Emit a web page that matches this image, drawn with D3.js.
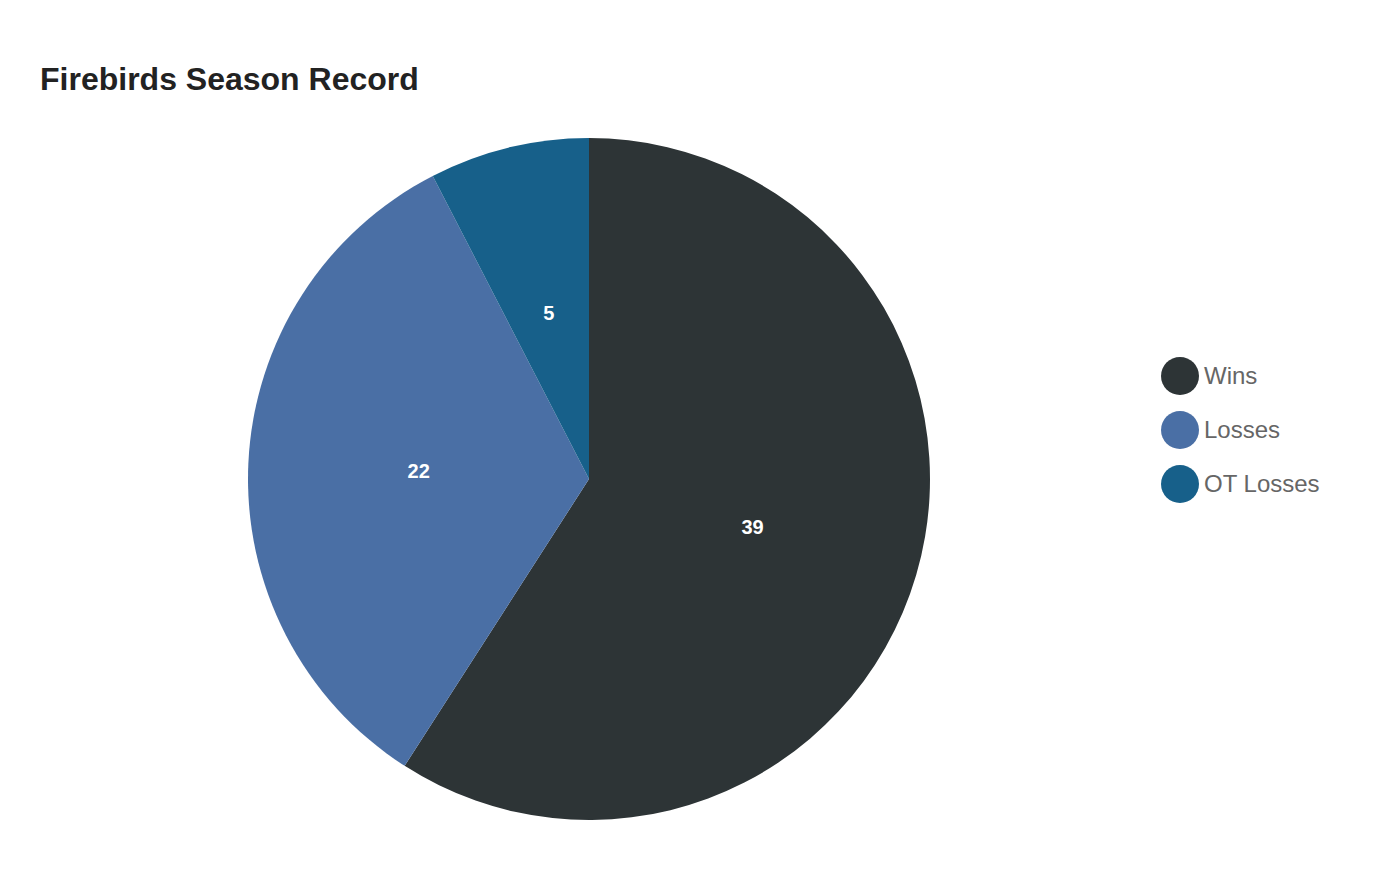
<!DOCTYPE html>
<html>
<head>
    <title>Firebirds Season Record</title>
    <script src="https://cdn.jsdelivr.net/npm/d3@7"></script>
    <style>
        body { margin: 0; background: #fff; }
        text { font-family: "Liberation Sans", Arial, sans-serif; }
    </style>
</head>
<body>
<script>
    var categories = ['Wins', 'Losses', 'OT Losses'],
        values = [39, 22, 5],
        colors = ['#2d3436', '#4a6fa5', '#17608a'];

    var width = 1400,
        height = 880,
        cx = 589,
        cy = 479,
        radius = 341;

    var data = categories.map(function (c, i) {
        return { name: c, value: values[i] };
    });

    var svg = d3.select('body')
        .append('svg')
        .attr('width', width)
        .attr('height', height);

    svg.append('text')
        .attr('x', 40)
        .attr('y', 90)
        .style('font-size', '32px')
        .style('font-weight', 'bold')
        .style('fill', '#222')
        .text('Firebirds Season Record');

    var color = d3.scaleOrdinal().domain(categories).range(colors);

    var pie = d3.pie()
        .sort(null)
        .value(function (d) { return d.value; });

    var arc = d3.arc().innerRadius(0).outerRadius(radius);
    var labelArc = d3.arc().innerRadius(radius * 0.5).outerRadius(radius * 0.5);

    var g = svg.append('g')
        .attr('transform', 'translate(' + cx + ',' + cy + ')');

    var slices = g.selectAll('g.slice')
        .data(pie(data))
        .enter()
        .append('g')
        .attr('class', 'slice');

    slices.append('path')
        .attr('d', arc)
        .attr('fill', function (d) { return color(d.data.name); });

    slices.append('text')
        .attr('transform', function (d) { return 'translate(' + labelArc.centroid(d) + ')'; })
        .attr('text-anchor', 'middle')
        .attr('dy', '0.35em')
        .style('font-size', '20px')
        .style('font-weight', 'bold')
        .style('fill', '#fff')
        .text(function (d) { return d.data.value; });

    // legend
    var legend = svg.append('g')
        .attr('transform', 'translate(1180, 376)');

    var items = legend.selectAll('g.item')
        .data(categories)
        .enter()
        .append('g')
        .attr('class', 'item')
        .attr('transform', function (d, i) { return 'translate(0,' + i * 54 + ')'; });

    items.append('circle')
        .attr('r', 19)
        .attr('fill', function (d) { return color(d); });

    items.append('text')
        .attr('x', 24)
        .attr('dy', '0.35em')
        .style('font-size', '24px')
        .style('fill', '#666')
        .text(function (d) { return d; });
</script>
</body>
</html>
